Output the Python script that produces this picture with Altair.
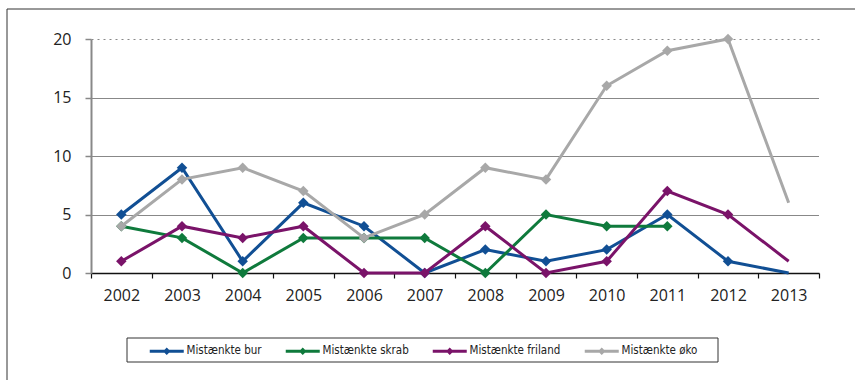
import altair as alt
import pandas as pd

years = list(range(2002, 2014))
series_names = ["Mistænkte bur", "Mistænkte skrab", "Mistænkte friland", "Mistænkte øko"]
bur = [5, 9, 1, 6, 4, 0, 2, 1, 2, 5, 1, 0]
skrab = [4, 3, 0, 3, 3, 3, 0, 5, 4, 4, None, None]
friland = [1, 4, 3, 4, 0, 0, 4, 0, 1, 7, 5, 1]
oko = [4, 8, 9, 7, 3, 5, 9, 8, 16, 19, 20, 6]
colors = ["#114f94", "#0f7a3c", "#7a1369", "#a8a8a8"]
marker_last_year = 2012  # markers are not drawn for 2013

rows = []
for name, vals in zip(series_names, [bur, skrab, friland, oko]):
    for y, v in zip(years, vals):
        if v is not None:
            rows.append({"year": y, "value": v, "series": name})
df = pd.DataFrame(rows)

font = "Open Sans"
legend_font = "Liberation Sans Narrow, DejaVu Sans Condensed, sans-serif"

x_scale = alt.Scale(domain=[2001.5, 2013.5], nice=False, zero=False)
y_scale = alt.Scale(domain=[0, 20], nice=False)
color_scale = alt.Scale(domain=series_names, range=colors)

x_axis = alt.Axis(
    values=[2001.5 + i for i in range(13)],
    labelExpr="datum.value < 2013 ? format(datum.value + 0.5, 'd') : ''",
    labelOffset=30.33, labelFlush=False, labelOverlap=False, labelAlign="center",
    title=None, grid=False, domainColor="#111", domainWidth=1.5,
    tickColor="#111", tickSize=5, tickWidth=1.2,
    labelFont=font, labelFontSize=16, labelColor="#222", labelPadding=9,
)
y_axis = alt.Axis(
    values=[0, 5, 10, 15, 20], title=None,
    domainColor="#888", domainWidth=2, tickColor="#888", tickSize=6, tickWidth=1.5,
    labelFont=font, labelFontSize=16, labelColor="#222", labelPadding=14,
    grid=True,
    gridColor=alt.condition("datum.value == 20", alt.value("#888"), alt.value("#111")),
    gridDash=alt.condition("datum.value == 20", alt.value([2, 4]), alt.value([1, 1])),
    gridWidth=1,
)

legend_path = ("M -3.4 -0.3 L 3.4 -0.3 L 3.4 0.3 L -3.4 0.3 Z "
               "M 0 -0.75 L 0.75 0 L 0 0.75 L -0.75 0 Z")

layers = []
# decorative outer frame and legend box
frame = alt.Chart(alt.Data(values=[{}])).mark_rect(
    fill="transparent", stroke="#333", strokeWidth=1
).encode(x=alt.value(-84), x2=alt.value(790), y=alt.value(-30), y2=alt.value(360))
legbox = alt.Chart(alt.Data(values=[{}])).mark_rect(
    fill="transparent", stroke="#333", strokeWidth=1
).encode(x=alt.value(36), x2=alt.value(627), y=alt.value(299), y2=alt.value(323))
layers += [frame, legbox]

for i, (name, col) in enumerate(zip(series_names, colors)):
    base = alt.Chart(df).transform_filter(alt.datum.series == name)
    line = base.mark_line(strokeWidth=3, color=col).encode(
        x=alt.X("year:Q", scale=x_scale, axis=x_axis if i == 0 else alt.Undefined),
        y=alt.Y("value:Q", scale=y_scale, axis=y_axis if i == 0 else alt.Undefined),
    )
    legend = alt.Legend(
        title=None, orient="none", legendX=36, legendY=302, direction="horizontal",
        symbolType=legend_path, symbolSize=100, symbolStrokeWidth=0,
        symbolOffset=30, labelOffset=14, columnPadding=5, padding=4,
        labelFont=legend_font, labelFontSize=11.5, labelColor="#222",
    ) if i == 0 else alt.Undefined
    pts = base.transform_filter(alt.datum.year <= marker_last_year).mark_point(
        shape="diamond", filled=True, size=110, opacity=1, strokeWidth=0
    ).encode(
        x="year:Q", y="value:Q",
        color=alt.Color("series:N", scale=color_scale, legend=legend),
    )
    layers += [line, pts]

chart = alt.layer(*layers).properties(
    width=728, height=234,
    autosize=alt.AutoSizeParams(type="none"),
    padding={"left": 91, "top": 39, "right": 36, "bottom": 107},
    background="white",
).configure_view(stroke="transparent")

chart.save("out.html", embed_options={"renderer": "svg", "actions": False})
